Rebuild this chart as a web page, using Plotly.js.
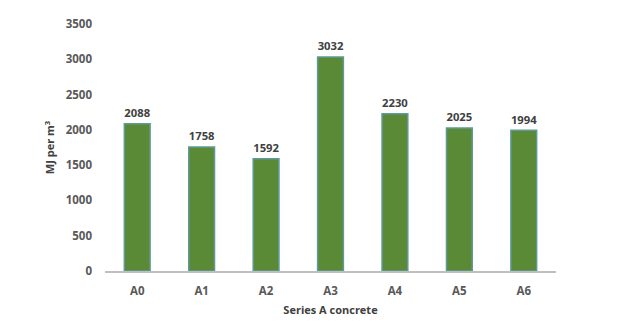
<!DOCTYPE html>
<html><head><meta charset="utf-8">
<script src="https://cdn.plot.ly/plotly-3.0.1.min.js"></script>
<style>html,body{margin:0;padding:0;background:#fff}#chart{width:620px;height:336px}</style>
</head><body><div id="chart"></div>
<script>
const categories = ["A0","A1","A2","A3","A4","A5","A6"];
const values = [2088,1758,1592,3032,2230,2025,1994];
const yTicks = [0,500,1000,1500,2000,2500,3000,3500];

const trace = {
  type: "bar",
  x: categories,
  y: values,
  width: 0.4,
  marker: {color: "#5a8a35", line: {color: "#5f9a98", width: 1.5}},
  text: values.map(String),
  textposition: "outside",
  cliponaxis: false,
  textfont: {family: "Open Sans, sans-serif", size: 12.5, color: "#404040", weight: "bold"},
  hoverinfo: "none"
};

const layout = {
  width: 620, height: 336,
  margin: {l: 105, r: 64, t: 24, b: 65},
  paper_bgcolor: "#fff", plot_bgcolor: "#fff",
  showlegend: false,
  bargap: 0.6,
  font: {family: "Open Sans, sans-serif", color: "#595959"},
  xaxis: {
    type: "category",
    showline: true, linecolor: "#bfbfbf", linewidth: 2,
    ticks: "", showgrid: false,
    tickfont: {size: 11.5, color: "#595959", weight: "bold"},
    ticklabelstandoff: 8,
    title: {text: "Series A concrete", font: {size: 11, color: "#404040", weight: "bold"}, standoff: 10}
  },
  yaxis: {
    range: [0, 3500],
    tickvals: yTicks,
    showline: false, showgrid: false, zeroline: false, ticks: "",
    tickfont: {size: 11.5, color: "#595959", weight: "bold"},
    ticklabelstandoff: 12,
    title: {text: "MJ per m<sup>3</sup>", font: {size: 11, color: "#404040", weight: "bold"}, standoff: 8}
  }
};

Plotly.newPlot("chart", [trace], layout, {staticPlot: true, displayModeBar: false});
</script></body></html>
